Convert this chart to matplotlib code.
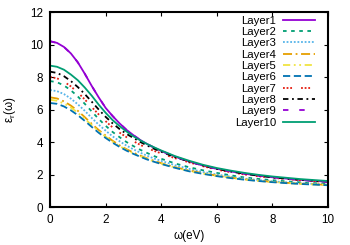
import matplotlib
matplotlib.use('Agg')
import matplotlib.pyplot as plt

omega = [0, 0.25, 0.5, 0.75, 1, 1.25, 1.5, 1.75, 2, 2.25, 2.5, 2.75, 3, 3.25, 3.5, 3.75, 4,
         4.5, 5, 5.5, 6, 6.5, 7, 7.5, 8, 8.5, 9, 9.5, 10]

# real part of the dielectric function for each layer
layer1 = [10.2, 10.1, 9.85, 9.45, 8.9, 8.2, 7.45, 6.75, 6.1, 5.6, 5.15, 4.75, 4.42, 4.12, 3.87, 3.65, 3.45,
          3.1, 2.8, 2.55, 2.35, 2.19, 2.05, 1.93, 1.83, 1.75, 1.67, 1.61, 1.55]
layer2 = [7.75, 7.68, 7.48, 7.18, 6.8, 6.35, 5.88, 5.42, 5.0, 4.62, 4.3, 4.0, 3.75, 3.52, 3.32, 3.13, 2.97,
          2.68, 2.45, 2.26, 2.1, 1.95, 1.82, 1.73, 1.65, 1.58, 1.52, 1.47, 1.43]
layer3 = [7.2, 7.13, 6.95, 6.67, 6.32, 5.92, 5.48, 5.07, 4.7, 4.35, 4.05, 3.78, 3.55, 3.34, 3.15, 2.98, 2.84,
          2.57, 2.35, 2.16, 2.0, 1.87, 1.75, 1.66, 1.58, 1.52, 1.47, 1.42, 1.38]
layer4 = [6.75, 6.68, 6.5, 6.24, 5.92, 5.53, 5.12, 4.74, 4.4, 4.08, 3.8, 3.56, 3.35, 3.16, 2.99, 2.84, 2.7,
          2.45, 2.25, 2.08, 1.93, 1.81, 1.7, 1.62, 1.55, 1.49, 1.44, 1.4, 1.36]
layer5 = [6.6, 6.54, 6.37, 6.12, 5.8, 5.43, 5.04, 4.67, 4.33, 4.02, 3.75, 3.51, 3.3, 3.12, 2.95, 2.8, 2.67,
          2.43, 2.22, 2.06, 1.92, 1.8, 1.7, 1.61, 1.54, 1.48, 1.43, 1.39, 1.35]
layer6 = [6.4, 6.35, 6.19, 5.95, 5.65, 5.3, 4.93, 4.57, 4.25, 3.96, 3.7, 3.47, 3.27, 3.09, 2.92, 2.78, 2.65,
          2.41, 2.2, 2.04, 1.9, 1.78, 1.68, 1.6, 1.53, 1.47, 1.42, 1.38, 1.34]
layer7 = [8.0, 7.92, 7.72, 7.42, 7.05, 6.62, 6.15, 5.7, 5.28, 4.9, 4.58, 4.3, 4.05, 3.82, 3.62, 3.45, 3.3,
          3.0, 2.75, 2.51, 2.3, 2.14, 2.0, 1.89, 1.8, 1.72, 1.65, 1.59, 1.53]
layer8 = [8.33, 8.25, 8.05, 7.75, 7.38, 6.95, 6.48, 6.0, 5.55, 5.15, 4.8, 4.5, 4.25, 4.0, 3.78, 3.58, 3.4,
          3.07, 2.8, 2.56, 2.35, 2.19, 2.05, 1.93, 1.83, 1.75, 1.68, 1.62, 1.56]
layer9 = [10.2, 10.1, 9.85, 9.45, 8.9, 8.2, 7.45, 6.75, 6.1, 5.6, 5.15, 4.75, 4.42, 4.12, 3.87, 3.65, 3.45,
          3.1, 2.8, 2.55, 2.35, 2.19, 2.05, 1.93, 1.83, 1.75, 1.67, 1.61, 1.55]
layer10 = [8.7, 8.63, 8.45, 8.15, 7.8, 7.35, 6.85, 6.3, 5.8, 5.35, 4.98, 4.65, 4.35, 4.1, 3.87, 3.67, 3.48,
           3.13, 2.85, 2.6, 2.4, 2.24, 2.1, 1.98, 1.88, 1.8, 1.72, 1.66, 1.6]

labels = ['Layer1', 'Layer2', 'Layer3', 'Layer4', 'Layer5',
          'Layer6', 'Layer7', 'Layer8', 'Layer9', 'Layer10']

plt.rcParams['font.family'] = ['Liberation Sans', 'DejaVu Sans']
plt.rcParams['font.size'] = 8.4
plt.rcParams['mathtext.fontset'] = 'custom'
plt.rcParams['mathtext.rm'] = 'Liberation Sans'

fig = plt.figure(figsize=(3.5, 2.45), dpi=100)
ax = fig.add_axes([0.143, 0.155, 0.794, 0.796])

series = [layer1, layer2, layer3, layer4, layer5,
          layer6, layer7, layer8, layer9, layer10]
# gnuplot-like colours and dash types
colors = ['#9400D3', '#009E73', '#56B4E9', '#E69F00', '#F0E442',
          '#0072B2', '#E51E10', '#000000', '#9400D3', '#009E73']
dashes = ['-', (0, (2, 2.5)), (0, (1, 1)), (0, (5, 2, 1, 2)), (0, (4, 2, 1, 2, 1, 2)),
          (0, (4, 2)), (0, (1, 1, 1, 1, 1, 5)), (0, (3, 2, 1, 2)), (0, (3, 6)), '-']

for ys, c, d, lab in zip(series, colors, dashes, labels):
    ax.plot(omega, ys, color=c, linestyle=d, lw=1.3, label=lab)

ax.set_xlim(0, 10)
ax.set_ylim(0, 12)
ax.set_xticks([0, 2, 4, 6, 8, 10])
ax.set_yticks([0, 2, 4, 6, 8, 10, 12])
ax.tick_params(direction='in', top=True, right=True, length=3, width=0.8, pad=5)
for s in ax.spines.values():
    s.set_linewidth(1.5)

ax.set_xlabel('ω(eV)', labelpad=3)
ax.set_ylabel(r'ε$_\mathregular{r}$(ω)', labelpad=9)

ax.legend(loc='upper right', bbox_to_anchor=(0.953, 0.982), frameon=False,
          markerfirst=False, handlelength=2.8, handletextpad=0.6,
          labelspacing=0.12, borderaxespad=0, borderpad=0, fontsize=8.2)

fig.savefig('out.png', dpi=100)
